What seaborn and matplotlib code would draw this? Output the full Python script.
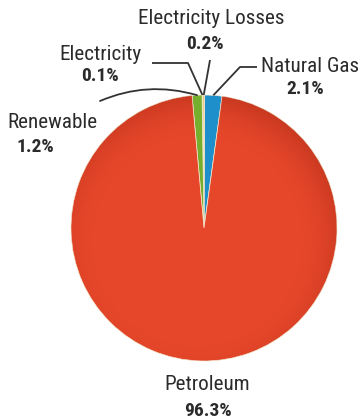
import numpy as np
import matplotlib
matplotlib.use("Agg")
import matplotlib.pyplot as plt
import matplotlib.font_manager as fm
import seaborn as sns

sns.set_theme(style="white")
_installed = {f.name for f in fm.fontManager.ttflist}
_fams = [f for f in ["Roboto Condensed", "Archivo Narrow", "Fira Sans Condensed",
                     "Encode Sans Condensed"] if f in _installed]
plt.rcParams["font.family"] = _fams[:1] + ["DejaVu Sans"]

# Transportation energy sources (share of total, %)
sources = ["Natural Gas", "Electricity Losses", "Electricity", "Renewable", "Petroleum"]
shares = [2.1, 0.2, 0.1, 1.2, 96.3]
colors = ["#1f8fcc", "#d8b25a", "#e3d36a", "#76ae2e", "#e6472a"]

W, H, DPI = 361, 420, 100
fig = plt.figure(figsize=(W / DPI, H / DPI), dpi=DPI)
ax = fig.add_axes([0, 0, 1, 1])

# pixel layout helper: pie centre at (204, 228) px, radius 133 px
CX, CY, R = 204.0, 228.0, 133.0
def px(x, y):
    return (x - CX) / R, (CY - y) / R

wedges, _ = ax.pie(shares, colors=colors, startangle=82.2, counterclock=True,
                   radius=1.0, center=(0, 0),
                   wedgeprops=dict(edgecolor="#f6ead0", linewidth=0.5))
ax.set_xlim(px(0, 0)[0], px(W, 0)[0])
ax.set_ylim(px(0, H)[1], px(0, 0)[1])
ax.set_aspect("equal")
ax.axis("off")

# soft shading toward the rim
n = 400
g = np.linspace(-1.05, 1.05, n)
gx, gy = np.meshgrid(g, g)
rr = np.hypot(gx + 0.05, gy + 0.1)
shade = np.zeros((n, n, 4))
shade[..., 0] = 0.5
shade[..., 1] = 0.08
shade[..., 2] = 0.03
shade[..., 3] = np.clip((rr - 0.75) / 0.35, 0, 1) ** 2 * 0.28
img = ax.imshow(shade, extent=(-1.05, 1.05, -1.05, 1.05), origin="lower",
                zorder=3, interpolation="bilinear")
img.set_clip_path(wedges[-1])

def anchor(i, r=1.0):
    w = wedges[i]
    a = np.deg2rad((w.theta1 + w.theta2) / 2)
    return r * np.cos(a), r * np.sin(a)

line_kw = dict(color="#333333", lw=1.3, solid_capstyle="butt", zorder=5)

# Natural Gas
ax_, ay_ = anchor(0)
p0, p1 = px(257, 67), px(240, 67)
ax.plot([p0[0], p1[0], ax_], [p0[1], p1[1], ay_], **line_kw)
# Electricity Losses
ax_, ay_ = anchor(1)
p0 = px(210, 60)
ax.plot([p0[0], ax_], [p0[1], ay_], **line_kw)
# Electricity
ax_, ay_ = anchor(2)
p0, p1 = px(152, 63), px(188, 63)
ax.plot([p0[0], p1[0], ax_], [p0[1], p1[1], ay_], **line_kw)
# Renewable (curved leader)
ax_, ay_ = anchor(3)
p0 = px(100, 101)
ax.annotate("", xy=(ax_, ay_), xytext=p0,
            arrowprops=dict(arrowstyle="-", color="#333333", lw=1.3,
                            shrinkA=0, shrinkB=0,
                            connectionstyle="arc3,rad=-0.18"), zorder=5)

# labels: name position and value position in px
label_pos = {
    "Natural Gas": ((310, 67), (305, 89)),
    "Electricity Losses": ((211, 19), (205, 44)),
    "Electricity": ((100, 54), (100, 76)),
    "Renewable": ((52, 122), (35, 147)),
    "Petroleum": ((207, 384), (208, 411)),
}
for name, val in zip(sources, shares):
    (nx, ny), (vx, vy) = label_pos[name]
    ax.text(*px(nx, ny), name, ha="center", va="center", fontsize=15.2,
            color="#2b2b2b")
    ax.text(*px(vx, vy), f"{val:.1f}%", ha="center", va="center",
            fontsize=14, fontweight="bold", color="#2b2b2b")

fig.savefig("out.png", dpi=DPI, facecolor="white")
